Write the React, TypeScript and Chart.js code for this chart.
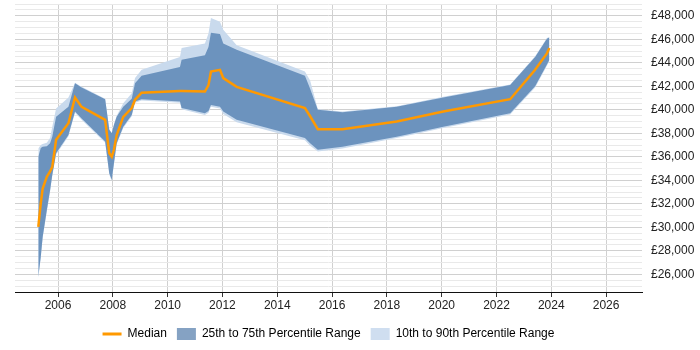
import React, { useEffect, useRef } from "react";
import { Chart, registerables } from "chart.js";

Chart.register(...registerables);

// Salary percentiles over time (fractional years)
const YEARS = [
  2005.28, 2005.37, 2005.44, 2005.59, 2005.71, 2005.79, 2005.93, 2006.38, 2006.62, 2006.86,
  2007.72, 2007.87, 2007.96, 2008.04, 2008.14, 2008.38, 2008.69, 2008.81, 2009.05, 2010.45,
  2010.51, 2011.36, 2011.49, 2011.58, 2011.91, 2012.03, 2012.52, 2015.01, 2015.2, 2015.48,
  2016.38, 2018.36, 2020.06, 2022.5, 2023.41, 2023.84, 2023.93,
];

const MEDIAN = [
  30050, 32050, 33300, 34300, 34750, 35150, 37450, 38850, 41050, 40250,
  39150, 36300, 36000, 36600, 37850, 39400, 40150, 40850, 41450, 41600,
  41600, 41550, 42100, 43250, 43400, 42700, 41950, 40150, 39450, 38350,
  38350, 39000, 39850, 40900, 43400, 44800, 45250,
];

const P25 = [
  25800, 27500, 29200, 31450, 33150, 34450, 36300, 37850, 39850, 39250,
  37300, 34600, 34050, 35450, 37150, 38550, 39550, 40700, 40900, 40700,
  40150, 39700, 39900, 40400, 40250, 39850, 39150, 37600, 37150, 36600,
  36850, 37700, 38550, 39700, 42000, 43850, 44250,
];

const P75 = [
  36000, 36750, 36850, 36900, 37150, 37700, 39400, 40250, 42250, 41900,
  40900, 38300, 38000, 38700, 39400, 40250, 40950, 42250, 42900, 43650,
  44250, 44650, 45350, 46550, 46450, 45650, 45100, 42900, 41800, 40000,
  39800, 40250, 41050, 42100, 44500, 46050, 46150,
];

const P10 = [
  25700, 27400, 29100, 31350, 33050, 34350, 36200, 37750, 39750, 39150,
  37200, 34500, 33950, 35350, 37050, 38450, 39450, 40600, 40800, 40600,
  40050, 39550, 39750, 40250, 40100, 39650, 38950, 37400, 36950, 36450,
  36700, 37600, 38450, 39600, 41900, 43750, 44150,
];

const P90 = [
  36700, 37000, 37100, 37200, 37600, 38550, 40100, 41050, 42300, 41950,
  40950, 38350, 38050, 38750, 39500, 40550, 41400, 42700, 43400, 44500,
  45250, 45650, 46500, 47800, 47500, 46800, 45500, 43250, 42500, 40050,
  39850, 40300, 41100, 42150, 44550, 46100, 46200,
];

const X_TICKS = [2006, 2008, 2010, 2012, 2014, 2016, 2018, 2020, 2022, 2024, 2026];
const Y_LABEL_STEP = 2000;
const Y_GRID_STEP = 500;
const Y_MIN = 24500;
const Y_MAX = 49000;
const X_MIN = 2004.43;
const X_MAX = 2027.31;

const ORANGE = "#FF9900";
const DARK = "rgb(108,147,190)";
const LIGHT = "rgb(201,218,237)";
const DARK_KEY = "rgb(133,162,195)";
const LIGHT_KEY = "rgb(207,222,240)";
const FONT = "'Liberation Sans', Arial, sans-serif";

const pts = (vals: number[]) => YEARS.map((x, i) => ({ x, y: vals[i] }));

const money = (v: number) => "£" + String(v).replace(/\B(?=(\d{3})+(?!\d))/g, ",");

export default function App() {
  const ref = useRef<HTMLCanvasElement>(null);

  useEffect(() => {
    const band = { pointRadius: 0, borderWidth: 0, borderColor: "transparent", tension: 0 };
    const chart = new Chart(ref.current!, {
      type: "line",
      data: {
        datasets: [
          {
            label: "Median",
            data: pts(MEDIAN),
            borderColor: ORANGE,
            backgroundColor: ORANGE,
            borderWidth: 2.5,
            pointRadius: 0,
            fill: false,
            tension: 0,
            order: 0,
          },
          { ...band, label: "25th to 75th Percentile Range", data: pts(P75), backgroundColor: DARK, fill: 2, order: 1 },
          { ...band, label: "p25", data: pts(P25), fill: false, order: 2 },
          { ...band, label: "10th to 90th Percentile Range", data: pts(P90), backgroundColor: LIGHT, fill: 4, order: 3 },
          { ...band, label: "p10", data: pts(P10), fill: false, order: 4 },
        ],
      },
      options: {
        animation: false,
        responsive: true,
        maintainAspectRatio: false,
        layout: { padding: { left: 15, top: 4, right: 0, bottom: 0 } },
        plugins: {
          tooltip: { enabled: false },
          legend: {
            position: "bottom",
            fullSize: false,
            labels: {
              usePointStyle: true,
              pointStyleWidth: 19,
              boxHeight: 12,
              padding: 10,
              color: "#222",
              font: { family: FONT, size: 12 },
              generateLabels: () => [
                { text: "Median", fillStyle: ORANGE, strokeStyle: ORANGE, lineWidth: 3, pointStyle: "line", datasetIndex: 0, hidden: false },
                { text: "25th to 75th Percentile Range", fillStyle: DARK_KEY, strokeStyle: DARK_KEY, lineWidth: 0, pointStyle: "rect", datasetIndex: 1, hidden: false },
                { text: "10th to 90th Percentile Range", fillStyle: LIGHT_KEY, strokeStyle: LIGHT_KEY, lineWidth: 0, pointStyle: "rect", datasetIndex: 3, hidden: false },
              ],
            },
          },
        },
        scales: {
          x: {
            type: "linear",
            min: X_MIN,
            max: X_MAX,
            afterBuildTicks: (s: any) => {
              s.ticks = X_TICKS.map((v) => ({ value: v }));
            },
            afterFit: (s: any) => {
              s.height = 26;
              s.paddingLeft = 0;
              s.paddingRight = 0;
            },
            ticks: {
              autoSkip: false,
              maxRotation: 0,
              padding: 1,
              color: "#222",
              font: { family: FONT, size: 12 },
              callback: (v: any) => String(v),
            },
            grid: { color: "#d0d0d0", tickColor: "#333", tickLength: 5 },
            border: { display: true, color: "#111", width: 1 },
          },
          y: {
            position: "right",
            min: Y_MIN,
            max: Y_MAX,
            afterBuildTicks: (s: any) => {
              const t = [];
              for (let v = Y_MIN; v <= Y_MAX; v += Y_GRID_STEP) t.push({ value: v });
              s.ticks = t;
            },
            afterFit: (s: any) => {
              s.width = 58;
              s.paddingTop = 0;
              s.paddingBottom = 0;
            },
            ticks: {
              autoSkip: false,
              padding: 9,
              color: "#222",
              font: { family: FONT, size: 12 },
              callback: (v: any) => (Number(v) % Y_LABEL_STEP === 0 ? money(Number(v)) : ""),
            },
            grid: {
              drawTicks: false,
              color: (c: any) => (c.tick && c.tick.value % Y_LABEL_STEP === 0 ? "#d0d0d0" : "#e9e9e9"),
            },
            border: { display: false },
          },
        },
      },
    } as any);
    return () => chart.destroy();
  }, []);

  return (
    <div style={{ position: "absolute", left: 0, top: 0, width: 700, height: 350, background: "#fff" }}>
      <canvas ref={ref} />
    </div>
  );
}
